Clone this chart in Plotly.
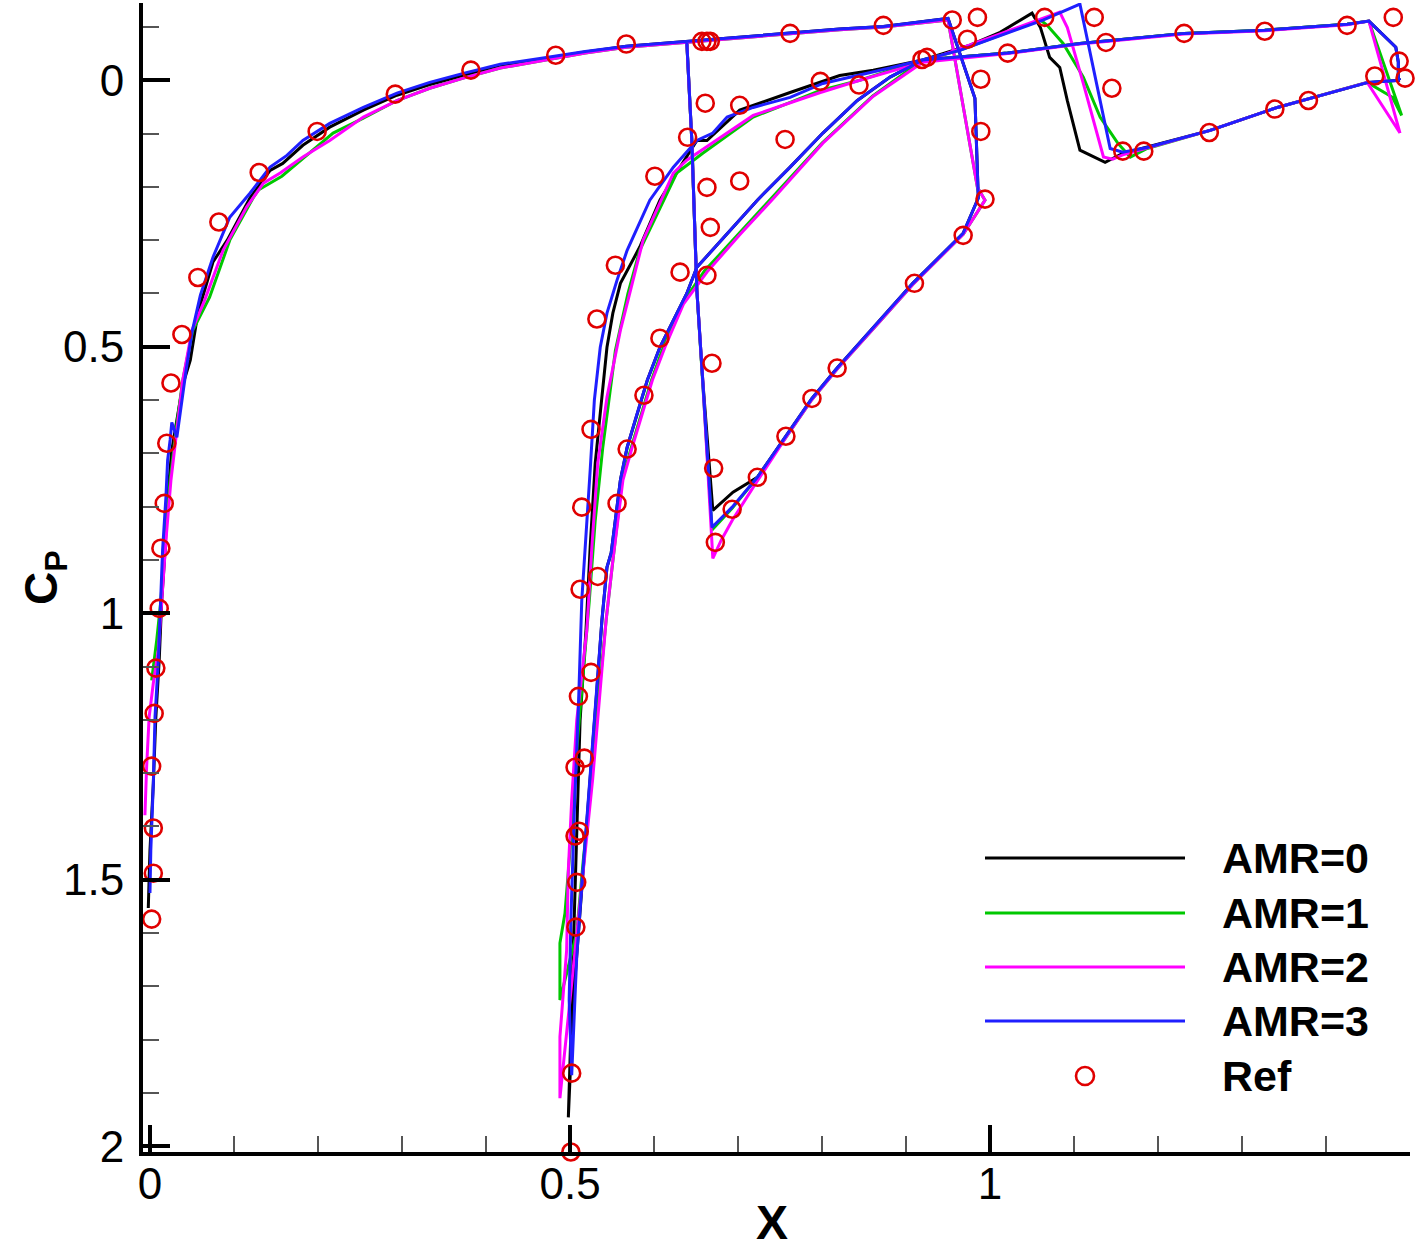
import plotly.graph_objects as go

# ---------------- data (x, Cp) ----------------
# AMR=0 (black)
amr0_x = [-0.002, 0.000, 0.004, 0.007, 0.011, 0.014, 0.018, 0.021, 0.026, 0.032, 0.039, 0.048, 0.057, 0.075, 0.092,
          0.119, 0.143, 0.158, 0.182, 0.214, 0.254, 0.294, 0.333, 0.373, 0.417, 0.464, 0.518, 0.567, 0.639, 0.702,
          0.762, 0.821, 0.873, 0.917, 0.950, 0.982, 0.985, 0.986, 0.968, 0.908, 0.869, 0.818, 0.788, 0.757, 0.723,
          0.694, 0.670, 0.658, 0.651, 0.645, 0.639,
          None,
          1.488, 1.450, 1.381, 1.342, 1.262, 1.187, 1.158, 1.137, 1.107, 1.092, 1.083, 1.071, 1.060, 1.050, 1.012,
          0.976, 0.920, 0.861, 0.821, 0.762, 0.702, 0.663, 0.651, 0.631, 0.607, 0.583, 0.560, 0.551, 0.544, 0.536,
          0.530, 0.524, 0.519, 0.512, 0.506, 0.504, 0.500, 0.498, 0.504, 0.508, 0.514, 0.524, 0.532, 0.538, 0.544,
          0.549, 0.560, 0.568, 0.580, 0.592, 0.607, 0.623, 0.639, 0.651, 0.687, 0.723, 0.762, 0.801, 0.842, 0.881,
          0.920, 1.021, 1.107, 1.231, 1.327, 1.425, 1.451, 1.483, 1.486, 1.486, 1.488]
amr0_cp = [1.553, 1.445, 1.319, 1.195, 1.088, 0.976, 0.882, 0.782, 0.694, 0.638, 0.572, 0.525, 0.437, 0.341, 0.300,
           0.221, 0.169, 0.156, 0.122, 0.088, 0.056, 0.028, 0.008, -0.009, -0.026, -0.039, -0.053, -0.064, -0.073, -0.081,
           -0.088, -0.096, -0.101, -0.109, -0.116, 0.034, 0.188, 0.221, 0.287, 0.381, 0.450, 0.540, 0.597, 0.668, 0.745,
           0.773, 0.807, 0.563, 0.394, 0.113, -0.073,
           None,
           0.000, 0.004, 0.034, 0.051, 0.094, 0.126, 0.137, 0.154, 0.131, 0.038, -0.024, -0.043, -0.099, -0.126, -0.090,
           -0.066, -0.038, -0.019, -0.009, 0.023, 0.056, 0.113, 0.113, 0.163, 0.225, 0.313, 0.381, 0.437, 0.501, 0.625,
           0.719, 0.876, 1.032, 1.201, 1.507, 1.632, 1.820, 1.946, 1.726, 1.645, 1.512, 1.311, 1.143, 1.013, 0.914,
           0.887, 0.750, 0.689, 0.625, 0.563, 0.501, 0.450, 0.400, 0.351, 0.287, 0.225, 0.163, 0.099, 0.038, -0.006,
           -0.038, -0.051, -0.069, -0.088, -0.094, -0.105, -0.111, -0.062, -0.034, -0.004, 0.000]

# AMR=1 (green)
amr1_x = [0.002, 0.008, 0.013, 0.018, 0.024, 0.031, 0.039, 0.051, 0.071, 0.095, 0.123, 0.129, 0.157, 0.218, 0.254,
          0.294, 0.333, 0.373, 0.417, 0.464, 0.518, 0.567, 0.639, 0.702, 0.762, 0.821, 0.873, 0.917, 0.950, 0.985,
          0.994, 0.968, 0.908, 0.869, 0.818, 0.788, 0.757, 0.723, 0.693, 0.669, 0.658, 0.651, 0.645, 0.639,
          None,
          1.490, 1.479, 1.449, 1.381, 1.342, 1.262, 1.187, 1.167, 1.152, 1.131, 1.111, 1.087, 1.068, 1.060, 0.964,
          0.920, 0.845, 0.798, 0.718, 0.658, 0.627, 0.604, 0.583, 0.569, 0.554, 0.539, 0.530, 0.523, 0.515, 0.507,
          0.500, 0.494, 0.488, 0.488, 0.508, 0.516, 0.526, 0.535, 0.543, 0.551, 0.562, 0.573, 0.585, 0.597, 0.611,
          0.633, 0.660, 0.700, 0.740, 0.800, 0.860, 0.920, 1.021, 1.107, 1.231, 1.327, 1.425, 1.451, 1.490]
amr1_cp = [1.126, 1.051, 0.976, 0.863, 0.750, 0.657, 0.563, 0.469, 0.407, 0.300, 0.220, 0.206, 0.180, 0.099, 0.071,
           0.038, 0.015, -0.004, -0.023, -0.036, -0.051, -0.062, -0.071, -0.080, -0.087, -0.095, -0.100, -0.107, -0.113, 0.201,
           0.225, 0.289, 0.383, 0.452, 0.542, 0.599, 0.670, 0.745, 0.803, 0.844, 0.563, 0.394, 0.113, -0.071,
           None,
           0.066, 0.032, 0.004, 0.034, 0.051, 0.094, 0.128, 0.144, 0.118, 0.069, -0.006, -0.069, -0.103, -0.113, -0.056,
           -0.038, 0.000, 0.019, 0.069, 0.137, 0.174, 0.250, 0.319, 0.400, 0.507, 0.689, 0.826, 0.976, 1.126, 1.276,
           1.445, 1.563, 1.619, 1.726, 1.600, 1.460, 1.311, 1.143, 1.013, 0.901, 0.750, 0.689, 0.625, 0.563, 0.501,
           0.420, 0.358, 0.290, 0.222, 0.118, 0.030, -0.038, -0.051, -0.069, -0.088, -0.094, -0.105, -0.111, 0.066]

# AMR=2 (magenta)
amr2_x = [-0.006, -0.004, -0.001, 0.004, 0.010, 0.014, 0.019, 0.025, 0.032, 0.039, 0.050, 0.065, 0.087, 0.115, 0.135,
          0.155, 0.182, 0.214, 0.254, 0.294, 0.333, 0.373, 0.417, 0.464, 0.518, 0.567, 0.639, 0.702, 0.762, 0.821,
          0.873, 0.917, 0.950, 0.985, 0.994, 0.968, 0.908, 0.869, 0.818, 0.788, 0.757, 0.718, 0.693, 0.680, 0.670,
          0.658, 0.651, 0.645, 0.639,
          None,
          1.488, 1.449, 1.381, 1.342, 1.262, 1.187, 1.158, 1.146, 1.135, 1.111, 1.092, 1.083, 0.964, 0.920, 0.845,
          0.798, 0.718, 0.658, 0.639, 0.623, 0.587, 0.569, 0.560, 0.544, 0.533, 0.526, 0.520, 0.508, 0.502, 0.498,
          0.496, 0.492, 0.488, 0.488, 0.500, 0.510, 0.518, 0.527, 0.536, 0.543, 0.551, 0.563, 0.574, 0.586, 0.598,
          0.613, 0.635, 0.663, 0.702, 0.742, 0.801, 0.861, 0.920, 1.021, 1.107, 1.231, 1.327, 1.425, 1.451, 1.488]
amr2_cp = [1.379, 1.289, 1.195, 1.131, 1.069, 0.976, 0.863, 0.750, 0.657, 0.563, 0.469, 0.413, 0.319, 0.238, 0.193,
           0.174, 0.144, 0.113, 0.069, 0.038, 0.015, -0.004, -0.023, -0.036, -0.051, -0.062, -0.071, -0.080, -0.087, -0.095,
           -0.100, -0.107, -0.113, 0.201, 0.225, 0.289, 0.383, 0.452, 0.542, 0.599, 0.670, 0.764, 0.826, 0.863, 0.897,
           0.563, 0.394, 0.113, -0.071,
           None,
           0.099, 0.004, 0.034, 0.051, 0.094, 0.128, 0.140, 0.148, 0.144, 0.006, -0.099, -0.128, -0.060, -0.034, 0.000,
           0.023, 0.066, 0.131, 0.150, 0.174, 0.300, 0.413, 0.469, 0.595, 0.719, 0.876, 1.032, 1.201, 1.351, 1.482,
           1.632, 1.713, 1.795, 1.910, 1.726, 1.576, 1.445, 1.311, 1.143, 1.013, 0.901, 0.750, 0.689, 0.625, 0.563,
           0.501, 0.420, 0.360, 0.290, 0.222, 0.118, 0.030, -0.034, -0.050, -0.068, -0.087, -0.093, -0.104, -0.111, 0.099]

# AMR=3 (blue)
amr3_x = [0.000, 0.001, 0.004, 0.006, 0.010, 0.013, 0.015, 0.019, 0.021, 0.024, 0.026, 0.032, 0.037, 0.043, 0.050,
          0.060, 0.075, 0.095, 0.119, 0.143, 0.163, 0.182, 0.214, 0.254, 0.294, 0.333, 0.373, 0.417, 0.464, 0.518,
          0.567, 0.639, 0.702, 0.762, 0.821, 0.873, 0.917, 0.950, 0.982, 0.985, 0.986, 0.968, 0.908, 0.869, 0.818,
          0.788, 0.757, 0.723, 0.693, 0.669, 0.658, 0.651, 0.645, 0.639,
          None,
          1.488, 1.450, 1.381, 1.342, 1.262, 1.187, 1.158, 1.143, 1.107, 1.063, 0.964, 0.920, 0.881, 0.842, 0.801,
          0.762, 0.718, 0.687, 0.670, 0.651, 0.623, 0.595, 0.568, 0.556, 0.544, 0.536, 0.529, 0.524, 0.519, 0.514,
          0.510, 0.505, 0.501, 0.499, 0.502, 0.506, 0.508, 0.514, 0.524, 0.532, 0.538, 0.544, 0.549, 0.560, 0.568,
          0.580, 0.592, 0.607, 0.623, 0.639, 0.651, 0.687, 0.723, 0.762, 0.801, 0.842, 0.881, 0.920, 1.021, 1.107,
          1.231, 1.327, 1.425, 1.451, 1.483, 1.486, 1.486, 1.488]
amr3_cp = [1.525, 1.445, 1.319, 1.195, 1.088, 0.976, 0.882, 0.782, 0.713, 0.675, 0.642, 0.670, 0.610, 0.544, 0.473,
           0.403, 0.332, 0.257, 0.212, 0.163, 0.141, 0.113, 0.081, 0.051, 0.024, 0.004, -0.013, -0.030, -0.041, -0.054,
           -0.064, -0.073, -0.081, -0.088, -0.096, -0.101, -0.109, -0.116, 0.034, 0.188, 0.221, 0.287, 0.381, 0.450, 0.540,
           0.597, 0.668, 0.745, 0.801, 0.839, 0.563, 0.394, 0.113, -0.073,
           None,
           0.000, 0.004, 0.034, 0.051, 0.094, 0.126, 0.135, 0.128, -0.143, -0.113, -0.056, -0.038, -0.023, -0.009, 0.006,
           0.032, 0.051, 0.069, 0.099, 0.113, 0.163, 0.225, 0.319, 0.375, 0.437, 0.501, 0.600, 0.732, 0.844, 0.976,
           1.176, 1.377, 1.578, 1.726, 1.867, 1.713, 1.645, 1.512, 1.311, 1.143, 1.013, 0.914, 0.887, 0.750, 0.689,
           0.625, 0.563, 0.501, 0.450, 0.400, 0.351, 0.287, 0.225, 0.163, 0.099, 0.038, -0.006, -0.038, -0.051, -0.069,
           -0.088, -0.094, -0.105, -0.111, -0.062, -0.034, -0.004, 0.000]

# Reference data (open circles)
ref_x = [0.002, 0.004, 0.004, 0.002, 0.005, 0.007, 0.011, 0.013, 0.017, 0.020, 0.025, 0.038, 0.057, 0.082, 0.130,
         0.199, 0.292, 0.382, 0.483, 0.567, 0.657, 0.663, 0.667, 0.762, 0.873, 0.955, 0.985, 0.973, 1.021, 1.065,
         1.124, 1.138, 1.231, 1.327, 1.425, 1.480, 1.487, 1.494, 1.458, 1.379, 1.339, 1.261, 1.183, 1.158, 1.145,
         0.989, 0.989, 0.994, 0.968, 0.910, 0.818, 0.788, 0.757, 0.723, 0.693, 0.673, 0.671, 0.669, 0.667, 0.663,
         0.661, 0.702, 0.702, 0.640, 0.631, 0.663, 0.756, 0.798, 0.844, 0.919, 0.925, 0.601, 0.554, 0.607, 0.588,
         0.532, 0.525, 0.568, 0.556, 0.514, 0.533, 0.512, 0.525, 0.510, 0.517, 0.506, 0.511, 0.506, 0.508, 0.507,
         0.502, 0.501]
ref_cp = [1.574, 1.488, 1.403, 1.287, 1.188, 1.103, 0.991, 0.878, 0.794, 0.681, 0.568, 0.477, 0.370, 0.266, 0.173,
          0.096, 0.026, -0.019, -0.047, -0.068, -0.073, -0.073, -0.073, -0.088, -0.103, -0.113, -0.118, -0.077, -0.051, -0.118,
          -0.118, -0.071, -0.088, -0.092, -0.103, -0.118, -0.036, -0.004, -0.008, 0.038, 0.054, 0.098, 0.133, 0.133, 0.015,
          -0.002, 0.096, 0.223, 0.291, 0.381, 0.540, 0.597, 0.668, 0.745, 0.805, 0.867, 0.728, 0.531, 0.276, 0.201,
          0.043, 0.047, 0.189, 0.107, 0.360, 0.366, 0.111, 0.002, 0.009, -0.039, -0.043, 0.180, 0.347, 0.484, 0.591,
          0.448, 0.655, 0.692, 0.794, 0.801, 0.931, 0.955, 1.111, 1.156, 1.272, 1.289, 1.409, 1.418, 1.505, 1.589,
          1.863, 2.011]

series_names = ["AMR=0", "AMR=1", "AMR=2", "AMR=3"]
series_colors = ["#000000", "#00c800", "#ff00ff", "#1f1fff"]
ref_name = "Ref"
ref_color = "#e00000"

x_tickvals = [0, 0.5, 1]
x_ticktext = ["0", "0.5", "1"]
y_tickvals = [0, 0.5, 1, 1.5, 2]
y_ticktext = ["0", "0.5", "1", "1.5", "2"]

# ---------------- figure ----------------
FONT = "Liberation Sans, Arial, Helvetica, sans-serif"
fig = go.Figure()
series = [(amr0_x, amr0_cp), (amr1_x, amr1_cp), (amr2_x, amr2_cp), (amr3_x, amr3_cp)]
for (xs, ys), name, col in zip(series, series_names, series_colors):
    fig.add_trace(go.Scatter(x=xs, y=ys, mode="lines", name=name, showlegend=False,
                             line=dict(color=col, width=3), connectgaps=False))
fig.add_trace(go.Scatter(x=ref_x, y=ref_cp, mode="markers", name=ref_name, showlegend=False,
                         cliponaxis=False,
                         marker=dict(symbol="circle-open", size=17, color=ref_color,
                                     line=dict(color=ref_color, width=2.6))))

W, H = 1416, 1252
ML, MR, MT, MB = 143, 6, 3, 100
PW, PH = W - ML - MR, H - MT - MB


def px2paper(px, py):
    return (px - ML) / PW, (H - MB - py) / PH


shapes, annotations = [], []
legend_rows = [858, 913, 967, 1021, 1076]
for i, (name, col) in enumerate(zip(series_names, series_colors)):
    x0, y0 = px2paper(985, legend_rows[i])
    x1, _ = px2paper(1185, legend_rows[i])
    shapes.append(dict(type="line", xref="paper", yref="paper", x0=x0, x1=x1, y0=y0, y1=y0,
                       line=dict(color=col, width=3)))
for i, name in enumerate(series_names + [ref_name]):
    tx, ty = px2paper(1220, legend_rows[i])
    annotations.append(dict(xref="paper", yref="paper", x=tx, y=ty, xanchor="left", yanchor="middle",
                            text="<b>%s</b>" % name, showarrow=False,
                            font=dict(family=FONT, size=43, color="black")))
cx0, cy0 = px2paper(1076, legend_rows[4] + 9)
cx1, cy1 = px2paper(1094, legend_rows[4] - 9)
shapes.append(dict(type="circle", xref="paper", yref="paper", x0=cx0, x1=cx1, y0=cy0, y1=cy1,
                   line=dict(color=ref_color, width=2.6)))

# axis titles as annotations for precise placement
ytx, yty = px2paper(44, 578)
annotations.append(dict(xref="paper", yref="paper", x=ytx, y=yty, xanchor="center", yanchor="middle",
                        text="<b>C<sub>P</sub></b>", showarrow=False, textangle=-90,
                        font=dict(family=FONT, size=46, color="black")))
xtx, xty = px2paper(772, 1250)
annotations.append(dict(xref="paper", yref="paper", x=xtx, y=xty, xanchor="center", yanchor="bottom",
                        text="<b>X</b>", showarrow=False, borderpad=0,
                        font=dict(family=FONT, size=48, color="black")))

fig.update_layout(
    width=W, height=H,
    margin=dict(l=ML, r=MR, t=MT, b=MB, autoexpand=False),
    paper_bgcolor="white", plot_bgcolor="white",
    shapes=shapes, annotations=annotations,
    showlegend=False,
)
fig.update_xaxes(
    range=[-0.0083, 1.4999], showgrid=False, zeroline=False,
    showline=True, linecolor="black", linewidth=4,
    tickmode="array", tickvals=x_tickvals, ticktext=x_ticktext,
    ticks="inside", ticklen=27, tickwidth=4, tickcolor="black",
    tickfont=dict(family=FONT, size=44, color="black"), ticklabelstandoff=-10,
    minor=dict(dtick=0.1, tick0=0, ticks="inside", ticklen=16, tickwidth=1.5, tickcolor="#555555", showgrid=False),
    automargin=False,
)
fig.update_yaxes(
    range=[2.011, -0.145], showgrid=False, zeroline=False,
    showline=True, linecolor="black", linewidth=4,
    tickmode="array", tickvals=y_tickvals, ticktext=y_ticktext,
    ticks="inside", ticklen=27, tickwidth=4, tickcolor="black",
    tickfont=dict(family=FONT, size=44, color="black"), ticklabelstandoff=6,
    minor=dict(dtick=0.1, tick0=0, ticks="inside", ticklen=16, tickwidth=1.5, tickcolor="#555555", showgrid=False),
    automargin=False,
)

fig.write_html("out.html", config={"displayModeBar": False},
               post_script="document.body.style.margin='0px';")
